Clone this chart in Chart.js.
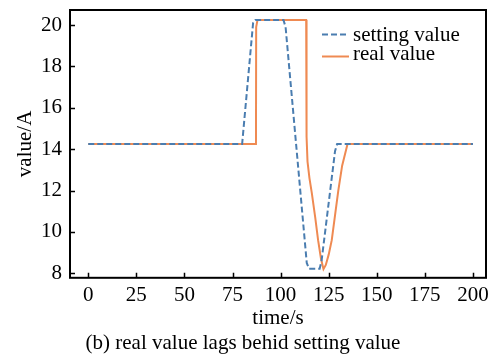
<!DOCTYPE html>
<html>
<head>
<meta charset="utf-8">
<script src="https://cdn.jsdelivr.net/npm/chart.js@4/dist/chart.umd.min.js"></script>
<style>
    html, body { margin: 0; padding: 0; background: #fff; }
    #wrap { width: 495px; height: 358px; }
</style>
</head>
<body>
<div id="wrap"><canvas id="lag_canvas"></canvas></div>
<script>
// setting value (dashed)
const settingTime = [0, 80, 85.7, 86.8, 101.5, 102.6, 113.6, 114.8, 120.3, 121.3, 128.3, 129.4, 200]
const settingValue = [14.25, 14.25, 20.1, 20.25, 20.25, 19.9, 8.5, 8.22, 8.22, 8.6, 13.9, 14.25, 14.25]

// real value (solid)
const realTime = [0, 87.2, 87.3, 88.0, 113.3, 113.5, 114.0, 115.0, 116.2, 118.0, 119.5, 121.0, 122.3, 123.5, 125.0, 126.6, 128.3, 130.0, 132.0, 134.8, 200]
const realValue = [14.25, 14.25, 19.9, 20.25, 20.25, 14.6, 13.4, 12.6, 11.9, 10.7, 9.6, 8.7, 8.2, 8.4, 8.9, 9.6, 10.8, 12.0, 13.2, 14.25, 14.25]

const xTicks = [0, 25, 50, 75, 100, 125, 150, 175, 200]
const yTicks = [8, 10, 12, 14, 16, 18, 20]

const serif = "'Liberation Serif', 'Times New Roman', serif"

function toPoints(xs, ys) {
    return xs.map((x, i) => ({ x: x, y: ys[i] }))
}

// box frame, inward tick marks and the legend box in the upper right
const framePlugin = {
    id: 'frame',
    afterDatasetsDraw(chart) {
        const ctx = chart.ctx
        const a = chart.chartArea
        const sx = chart.scales.x
        const sy = chart.scales.y
        ctx.save()
        ctx.strokeStyle = '#000'
        ctx.lineWidth = 1.5
        ctx.beginPath()
        sx.ticks.forEach(t => {
            const px = Math.round(sx.getPixelForValue(t.value)) + 0.5
            ctx.moveTo(px, a.bottom)
            ctx.lineTo(px, a.bottom - 5)
        })
        sy.ticks.forEach(t => {
            const py = Math.round(sy.getPixelForValue(t.value)) + 0.5
            ctx.moveTo(a.left, py)
            ctx.lineTo(a.left + 5, py)
        })
        ctx.stroke()
        ctx.lineWidth = 2
        ctx.strokeRect(a.left, a.top, a.right - a.left, a.bottom - a.top)

        // legend
        const rows = [41, 60]
        ctx.font = '21px ' + serif
        ctx.textBaseline = 'alphabetic'
        chart.data.datasets.forEach((ds, i) => {
            const ly = i === 0 ? 34.5 : 56.5
            ctx.strokeStyle = ds.borderColor
            ctx.lineWidth = ds.borderWidth
            ctx.setLineDash(ds.borderDash || [])
            ctx.beginPath()
            ctx.moveTo(322, ly)
            ctx.lineTo(349, ly)
            ctx.stroke()
            ctx.setLineDash([])
            ctx.fillStyle = '#000'
            ctx.fillText(ds.label, 353, rows[i])
        })
        ctx.restore()
    }
}

const setup = {
    datasets: [{
        label: 'setting value',
        data: toPoints(settingTime, settingValue),
        borderColor: '#4a7db0',
        borderWidth: 2,
        borderDash: [6, 3],
        pointRadius: 0,
        tension: 0
    }, {
        label: 'real value',
        data: toPoints(realTime, realValue),
        borderColor: '#ef8a52',
        borderWidth: 2,
        pointRadius: 0,
        tension: 0
    }]
}

const chart = new Chart(document.getElementById('lag_canvas'), {
    type: 'line',
    data: setup,
    options: {
        responsive: true,
        maintainAspectRatio: false,
        animation: false,
        layout: { padding: { top: 10, right: 9, left: 0, bottom: 0 } },
        plugins: {
            legend: { display: false },
            tooltip: { enabled: false },
            title: {
                display: true,
                position: 'bottom',
                text: '(b) real value lags behid setting value',
                color: '#000',
                font: { family: serif, size: 21, weight: 'normal', lineHeight: 1.2 },
                padding: { top: 0, bottom: 2 }
            }
        },
        scales: {
            x: {
                type: 'linear',
                min: -9.5,
                max: 206.8,
                afterBuildTicks: s => { s.ticks = xTicks.map(v => ({ value: v })) },
                afterFit: s => {
                    s.height = 53
                    s.paddingLeft = 0
                    s.paddingRight = 0
                },
                grid: { display: false, drawTicks: false },
                border: { display: false },
                ticks: {
                    color: '#000',
                    padding: 5,
                    maxRotation: 0,
                    font: { family: serif, size: 21 }
                },
                title: {
                    display: true,
                    text: 'time/s',
                    color: '#000',
                    font: { family: serif, size: 21, lineHeight: 1.2 },
                    padding: { top: 0, bottom: 0 }
                }
            },
            y: {
                min: 7.78,
                max: 20.73,
                afterBuildTicks: s => { s.ticks = yTicks.map(v => ({ value: v })) },
                afterFit: s => {
                    s.width = 70
                    s.paddingTop = 0
                    s.paddingBottom = 0
                },
                grid: { display: false, drawTicks: false },
                border: { display: false },
                ticks: {
                    color: '#000',
                    padding: 8,
                    font: { family: serif, size: 21 }
                },
                title: {
                    display: true,
                    text: 'value/A',
                    color: '#000',
                    font: { family: serif, size: 21, lineHeight: 1.2 },
                    padding: { top: 13, bottom: 0 }
                }
            }
        }
    },
    plugins: [framePlugin]
})
</script>
</body>
</html>
